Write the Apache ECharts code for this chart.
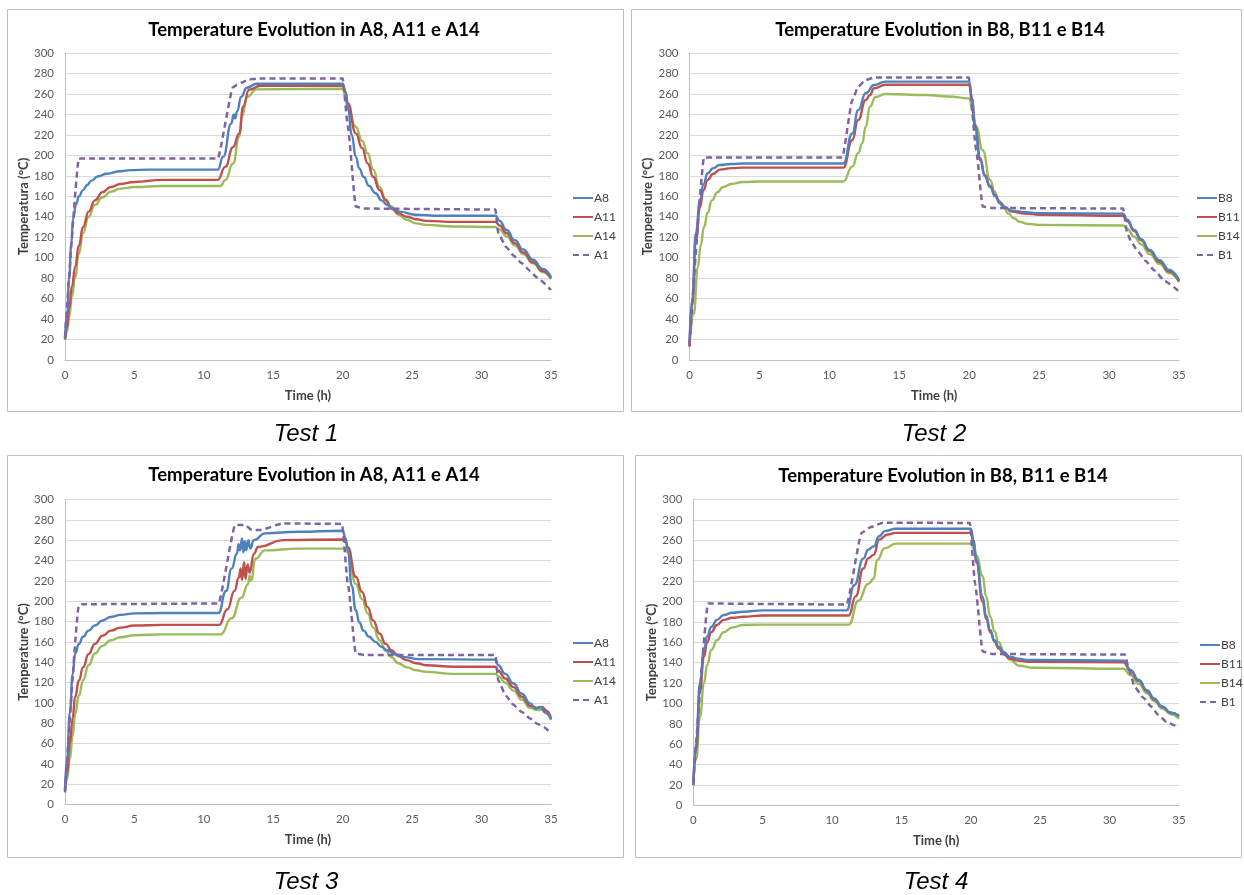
<!DOCTYPE html>
<html>
<head>
<meta charset="utf-8">
<script src="https://cdn.jsdelivr.net/npm/echarts@6/dist/echarts.min.js"></script>
<style>
html,body{margin:0;padding:0;background:#fff;}
#chart{width:1244px;height:895px;}
</style>
</head>
<body>
<div id="chart"></div>
<script>
// ---------- tick labels ----------
const xTicks = [0, 5, 10, 15, 20, 25, 30, 35];
const yTicks = [0, 20, 40, 60, 80, 100, 120, 140, 160, 180, 200, 220, 240, 260, 280, 300];

// ---------- Test 1 : A8, A11, A14, A1 ----------
const t1_A8 = [[0,21],[0.15,45],[0.3,80],[0.45,113],[0.58,138],[0.8,152],[1.0,160],[1.3,166],[1.6,171],[1.87,175],[2.4,179.5],[3.0,182],[4.0,184.5],[4.7,185.5],[6,186],[11,186],[11.4,198.7],[11.97,231],[12.15,240],[12.25,236],[12.4,243],[12.68,257],[13.1,266],[13.8,270],[20,270],[20.2,262],[20.37,247.5],[20.65,220],[20.94,198.7],[21.2,187],[21.5,179],[21.9,170],[22.36,163],[22.8,156],[23.2,151.5],[23.6,148],[24.1,145],[25.2,142],[27,141],[31,141],[31.3,136],[31.8,127],[32.4,117],[33.0,108],[33.7,98],[34.4,89],[35,81]];
const t1_A11 = [[0,20],[0.15,32],[0.3,50],[0.5,72],[0.73,91],[1.0,112],[1.3,130],[1.7,145],[2.15,156],[2.7,164],[3.3,169],[4,172],[5,174],[7,176],[11,176],[11.55,189],[12.1,208],[12.55,221.5],[12.83,247.5],[13.25,264],[14.1,268],[20,268],[20.2,262],[20.37,251],[20.94,221.5],[21.4,207],[21.8,192],[22.2,179],[22.65,166],[23.1,156],[23.5,148],[24.0,143.5],[24.6,140],[25.3,137.5],[26,136],[28,135],[31,135],[31.3,131.5],[31.8,124],[32.4,114],[33.0,105],[33.7,95.5],[34.4,87],[35,80]];
const t1_A14 = [[0,20],[0.15,28],[0.3,42],[0.5,62],[0.73,81],[1.0,104],[1.3,124],[1.7,140],[2.15,151.5],[2.7,159],[3.3,164.5],[4,167.5],[5,169],[7,170],[11.2,170],[11.55,176],[12.1,192],[12.55,218],[12.75,238],[13.1,257],[13.8,264.5],[20,265],[20.2,257],[20.37,245],[20.94,228],[21.4,214],[21.8,202],[22.2,186],[22.65,169],[23.1,157],[23.5,150],[24.0,142],[24.6,137],[25.3,133.5],[26,132],[28,130.5],[31,130],[31.3,127.5],[31.8,121],[32.4,112],[33.0,103.5],[33.7,94.5],[34.4,86],[35,79]];
const t1_A1 = [[0,22],[1.0,197],[11,197],[12.1,266.5],[12.4,269],[12.7,271],[13.25,274],[13.8,275],[20,275],[20.37,228],[20.94,150],[21.5,148],[31,147],[31.2,124],[31.75,110.7],[32.3,102],[32.9,94.5],[33.5,87],[34,80.5],[35,68.4]];

// ---------- Test 2 : B8, B11, B14, B1 ----------
const t2_B8 = [[0,15],[0.2,60],[0.45,124],[0.75,156],[1.0,172],[1.3,182.5],[1.7,187.5],[2.15,190.5],[3,191.5],[3.85,192],[11,192],[11.64,221.5],[12.06,244],[12.6,260.6],[13.2,268.7],[14,272],[20,272],[20.2,255],[20.4,228],[20.8,195],[21.1,180],[21.5,169],[21.85,160],[22.2,153],[22.6,149],[23,146],[24,144.5],[25,143.5],[31,143],[31.3,137],[31.8,127],[32.3,118],[32.9,107.5],[33.6,97.5],[34.3,88],[35,78]];
const t2_B11 = [[0,13],[0.2,55],[0.45,117],[0.75,149.5],[1.0,166],[1.3,176],[1.7,182],[2.15,186],[3,187.5],[3.85,188],[11,188],[11.64,215],[12.06,234.5],[12.6,254],[12.9,259],[13.2,265.5],[14,269],[20,269],[20.2,255],[20.4,230],[20.8,197],[21.1,181],[21.5,170],[21.85,161],[22.2,154],[22.6,149],[23,145],[24,143],[25,142],[31,141],[31.3,135.5],[31.8,126],[32.3,117],[32.9,106.5],[33.6,96],[34.3,86.5],[35,77]];
const t2_B14 = [[0,13],[0.3,45],[0.6,91],[0.8,112],[1.04,130],[1.3,144],[1.6,156],[2.0,164],[2.4,169],[3,172],[3.85,174],[5,174.5],[11,174.5],[11.64,189],[12.06,202],[12.35,211.7],[12.6,228],[12.9,247.6],[13.3,257],[14,260],[16.9,259],[18.5,257.5],[20,255.7],[20.25,243],[20.5,228],[20.96,205],[21.5,176],[21.8,165],[22.1,156],[22.45,149],[22.8,143],[23.2,138.5],[23.6,135],[24.2,133],[25,132],[31,131.5],[31.3,128],[31.8,120.5],[32.3,113],[32.9,103.5],[33.6,94],[34.3,85],[35,76]];
const t2_B1 = [[0,15],[1.04,198],[10.93,198],[11.64,254],[12.06,267],[12.6,273.6],[13.2,276],[19.97,276],[20.5,205],[20.96,150],[21.7,148.5],[31,148],[31.3,124],[31.6,115],[32,107.5],[32.6,97],[33.2,88],[34,77],[35,67]];

// ---------- Test 3 : A8, A11, A14, A1 ----------
const t3_A8 = [[0,14],[0.15,45],[0.35,90],[0.55,128],[0.73,148.5],[1.0,158],[1.3,165],[1.7,171],[2.15,176],[2.7,181],[3.3,184.5],[4,186.5],[5,188],[7,188.3],[11.05,188.3],[11.6,210],[12.0,232],[12.38,246.7],[12.5,256],[12.6,250],[12.75,261.7],[12.85,248],[12.95,259],[13.05,250],[13.2,260],[13.35,252],[13.6,260],[14.4,266.7],[16.8,268.3],[20,269.3],[20.2,262],[20.37,250],[20.65,215],[20.94,191],[21.2,179],[21.5,171],[21.9,165],[22.36,160],[22.8,155],[23.2,151.7],[23.8,147.5],[24.4,145],[25.5,143],[31,142.5],[31.2,137],[31.7,128.5],[32.3,119],[32.9,109],[33.5,99.5],[33.9,94.5],[34.2,96],[34.6,90.5],[35,84]];
const t3_A11 = [[0,14],[0.15,32],[0.35,60],[0.55,85],[0.73,105.7],[1.0,122],[1.3,135],[1.7,148],[2.15,158],[2.7,166],[3.3,171],[4,174],[5,176],[7,176.7],[11.1,176.7],[11.7,192],[12.2,210],[12.52,223.3],[12.65,232],[12.75,221],[12.9,238.3],[13.0,222],[13.15,236],[13.3,228],[13.6,246.7],[13.9,253.3],[15.7,260],[20,260.7],[20.2,258],[20.37,253],[20.94,224],[21.4,209],[21.8,194],[22.2,181],[22.65,168],[23.1,158],[23.5,151.7],[24.0,146],[24.6,142],[25.3,139],[26,137],[28,135.5],[31,135.5],[31.2,131.5],[31.7,124],[32.3,115.5],[32.9,106],[33.5,97],[34.0,95],[34.35,96],[34.7,92],[35,85]];
const t3_A14 = [[0,14],[0.15,25],[0.35,45],[0.55,68],[0.73,89],[1.0,107],[1.3,122],[1.7,137],[2.15,148.5],[2.7,156],[3.3,161.6],[4,164.5],[5,166.5],[7,167.3],[11.2,167.3],[12.0,183.3],[12.7,203.3],[13.18,216.7],[13.3,225],[13.42,220],[13.7,241.7],[14.4,250],[16.8,251.7],[20,251.7],[20.2,251],[20.37,248],[20.94,217],[21.4,202],[21.8,188],[22.2,174],[22.65,161.6],[23.1,151],[23.5,145],[24.0,139],[24.6,135],[25.3,132],[26,130.5],[28,128.5],[31,128.5],[31.2,126],[31.7,120],[32.3,112],[32.9,103],[33.5,95],[34.0,93],[34.4,93.5],[34.7,89],[35,83]];
const t3_A1 = [[0,12],[1.0,196],[1.2,197],[11.05,197.7],[12.26,275],[12.96,275],[13.46,270],[14.06,270],[15.7,276.5],[19.95,276],[20.37,217],[20.94,148.5],[21.6,147],[31,147],[31.2,122],[31.75,107],[32.3,98],[32.9,91],[33.5,84.5],[34,79.5],[34.5,76],[35,70]];

// ---------- Test 4 : B8, B11, B14, B1 ----------
const t4_B8 = [[0,20],[0.2,60],[0.48,120],[0.77,152.5],[1.0,166],[1.3,175],[1.7,182],[2.2,186.8],[2.8,189],[3.6,190],[5,191.3],[11.05,191.3],[11.6,216],[12.25,242],[12.6,250.7],[13.0,254],[13.4,264],[13.8,269],[14.6,271.3],[20,271.3],[20.2,260],[20.4,240.7],[20.85,204.7],[21.1,186],[21.4,172],[21.7,162],[22,155.7],[22.4,150],[22.8,146],[23.4,144],[24.1,142.7],[31,142],[31.5,133],[32.1,123],[32.7,113],[33.2,105],[33.8,97],[34.4,91],[35,87.5]];
const t4_B11 = [[0,20],[0.2,55],[0.48,113],[0.77,146],[1.0,160],[1.3,170],[1.7,177],[2.2,182],[2.8,184],[3.6,185],[5,186.3],[11.2,186.3],[11.7,205],[12.25,232.3],[12.6,242.3],[13.0,245.7],[13.4,260.7],[14.0,265.7],[14.6,267.3],[20,267.3],[20.2,257],[20.4,238],[20.85,200],[21.1,183],[21.4,170],[21.7,161],[22,154],[22.4,148],[22.8,144],[23.4,142],[24.1,141],[31,140.5],[31.5,132],[32.1,122],[32.7,112],[33.2,104],[33.8,96.5],[34.4,91],[35,88]];
const t4_B14 = [[0,20],[0.2,45],[0.48,87],[0.77,120],[1.0,138],[1.3,152.5],[1.7,162],[2.2,170],[2.8,174.5],[3.6,177],[5,177.3],[11.2,177.3],[11.9,200.7],[12.6,217.3],[13.0,222.3],[13.25,240.7],[13.8,252.3],[14.6,256.7],[20,256.7],[20.2,252],[20.4,245],[20.85,225],[21.1,205],[21.4,185],[21.7,171],[22,160],[22.4,150],[22.8,143],[23.5,137],[24.5,135],[31,134],[31.5,128],[32.1,119],[32.7,110],[33.2,102.5],[33.8,95],[34.4,89.5],[35,85]];
const t4_B1 = [[0,22],[1.06,198],[11.05,197],[12.13,267.3],[12.8,273],[13.67,277.3],[19.93,277],[20.3,218],[20.85,151],[21.6,148.5],[31.1,148],[31.4,133],[31.8,116.5],[32.4,106],[33,97],[33.5,89],[34.1,82],[34.6,79],[35,76]];

// ---------- names ----------
const namesA = ['A8', 'A11', 'A14', 'A1'];
const namesB = ['B8', 'B11', 'B14', 'B1'];
const panelTitles = ['Temperature Evolution in A8, A11 e A14', 'Temperature Evolution in B8, B11 e B14',
                     'Temperature Evolution in A8, A11 e A14', 'Temperature Evolution in B8, B11 e B14'];
const yNames = ['Temperatura (°C)', 'Temperature (°C)', 'Temperature (°C)', 'Temperature (°C)'];
const captions = ['Test 1', 'Test 2', 'Test 3', 'Test 4'];

const COLORS = ['#4F81BD', '#C0504D', '#9BBB59', '#8064A2'];
const FONT = 'Lato, "Open Sans", sans-serif';

const panels = [
  { names: namesA, data: [t1_A8, t1_A11, t1_A14, t1_A1],
    grid: {left: 65, top: 53, width: 486, height: 307},
    box: [7, 9, 616, 402], titleXY: [314, 30], capXY: [306, 434], legend: [572, 192] },
  { names: namesB, data: [t2_B8, t2_B11, t2_B14, t2_B1],
    grid: {left: 689.5, top: 53, width: 489.5, height: 307},
    box: [631, 9, 610, 402], titleXY: [940, 30], capXY: [934, 434], legend: [1196, 192] },
  { names: namesA, data: [t3_A8, t3_A11, t3_A14, t3_A1],
    grid: {left: 65, top: 499.5, width: 486, height: 305},
    box: [7, 455, 616, 402], titleXY: [314, 475], capXY: [306, 882], legend: [572, 637] },
  { names: namesB, data: [t4_B8, t4_B11, t4_B14, t4_B1],
    grid: {left: 693.3, top: 499.5, width: 485.7, height: 306},
    box: [635, 455, 606, 402], titleXY: [943, 476], capXY: [936, 882], legend: [1199, 639] }
];

const grids = [], xAxes = [], yAxes = [], series = [], legends = [], graphics = [];

panels.forEach((p, i) => {
  grids.push(Object.assign({containLabel: false}, p.grid));
  xAxes.push({
    type: 'value', gridIndex: i, min: xTicks[0], max: xTicks[xTicks.length - 1], interval: 5,
    name: 'Time (h)', nameLocation: 'middle', nameGap: 29,
    nameTextStyle: {fontFamily: FONT, fontWeight: 'bold', fontSize: 13, color: '#404040'},
    axisLine: {show: true, onZero: false, lineStyle: {color: '#BFBFBF', width: 1}},
    axisTick: {show: false},
    axisLabel: {fontFamily: FONT, fontSize: 11.5, color: '#595959', margin: 9},
    splitLine: {show: false}
  });
  yAxes.push({
    type: 'value', gridIndex: i, min: yTicks[0], max: yTicks[yTicks.length - 1], interval: 20,
    name: yNames[i], nameLocation: 'middle', nameGap: 30, nameRotate: 90,
    nameTextStyle: {fontFamily: FONT, fontWeight: 'bold', fontSize: 13, color: '#404040'},
    axisLine: {show: true, lineStyle: {color: '#BFBFBF', width: 1}},
    axisTick: {show: false},
    axisLabel: {fontFamily: FONT, fontSize: 11.5, color: '#595959', margin: 11},
    splitLine: {show: true, lineStyle: {color: '#D9D9D9', width: 1}}
  });
  p.names.forEach((nm, k) => {
    const dashed = k === 3;
    series.push({
      type: 'line', name: nm, xAxisIndex: i, yAxisIndex: i,
      data: p.data[k], symbol: 'none', showSymbol: false,
      smooth: dashed ? 0.15 : 0.5, smoothMonotone: 'x',
      z: dashed ? 3 : 2 + (3 - k) * 0.1,
      lineStyle: {color: COLORS[k], width: dashed ? 2.5 : 2.4, type: dashed ? [6, 4] : 'solid'},
      itemStyle: {color: COLORS[k]}
    });
  });
  legends.push({
    orient: 'vertical', left: p.legend[0], top: p.legend[1], padding: 0,
    itemWidth: 20, itemHeight: 12, itemGap: 7,
    data: p.names.slice(), selectedMode: false,
    itemStyle: {opacity: 0},
    textStyle: {fontFamily: FONT, fontSize: 12, color: '#404040', padding: [0, 0, 0, -4]}
  });
  graphics.push({
    type: 'rect', silent: true, z: -1,
    shape: {x: p.box[0] + 0.5, y: p.box[1] + 0.5, width: p.box[2], height: p.box[3]},
    style: {fill: '#FFFFFF', stroke: '#BFBFBF', lineWidth: 1}
  });
  graphics.push({
    type: 'text', silent: true, x: p.titleXY[0], y: p.titleXY[1],
    style: {text: panelTitles[i], fill: '#000', font: 'bold 18.5px ' + FONT, textAlign: 'center', textVerticalAlign: 'middle'}
  });
  graphics.push({
    type: 'text', silent: true, x: p.capXY[0], y: p.capXY[1],
    style: {text: captions[i], fill: '#000', font: 'italic 24px "Liberation Sans", Arial, sans-serif', textAlign: 'center', textVerticalAlign: 'middle'}
  });
});

const chart = echarts.init(document.getElementById('chart'), null, {renderer: 'canvas'});
chart.setOption({
  animation: false,
  backgroundColor: '#FFFFFF',
  grid: grids, xAxis: xAxes, yAxis: yAxes, series: series, legend: legends,
  graphic: {elements: graphics}
});
</script>
</body>
</html>
